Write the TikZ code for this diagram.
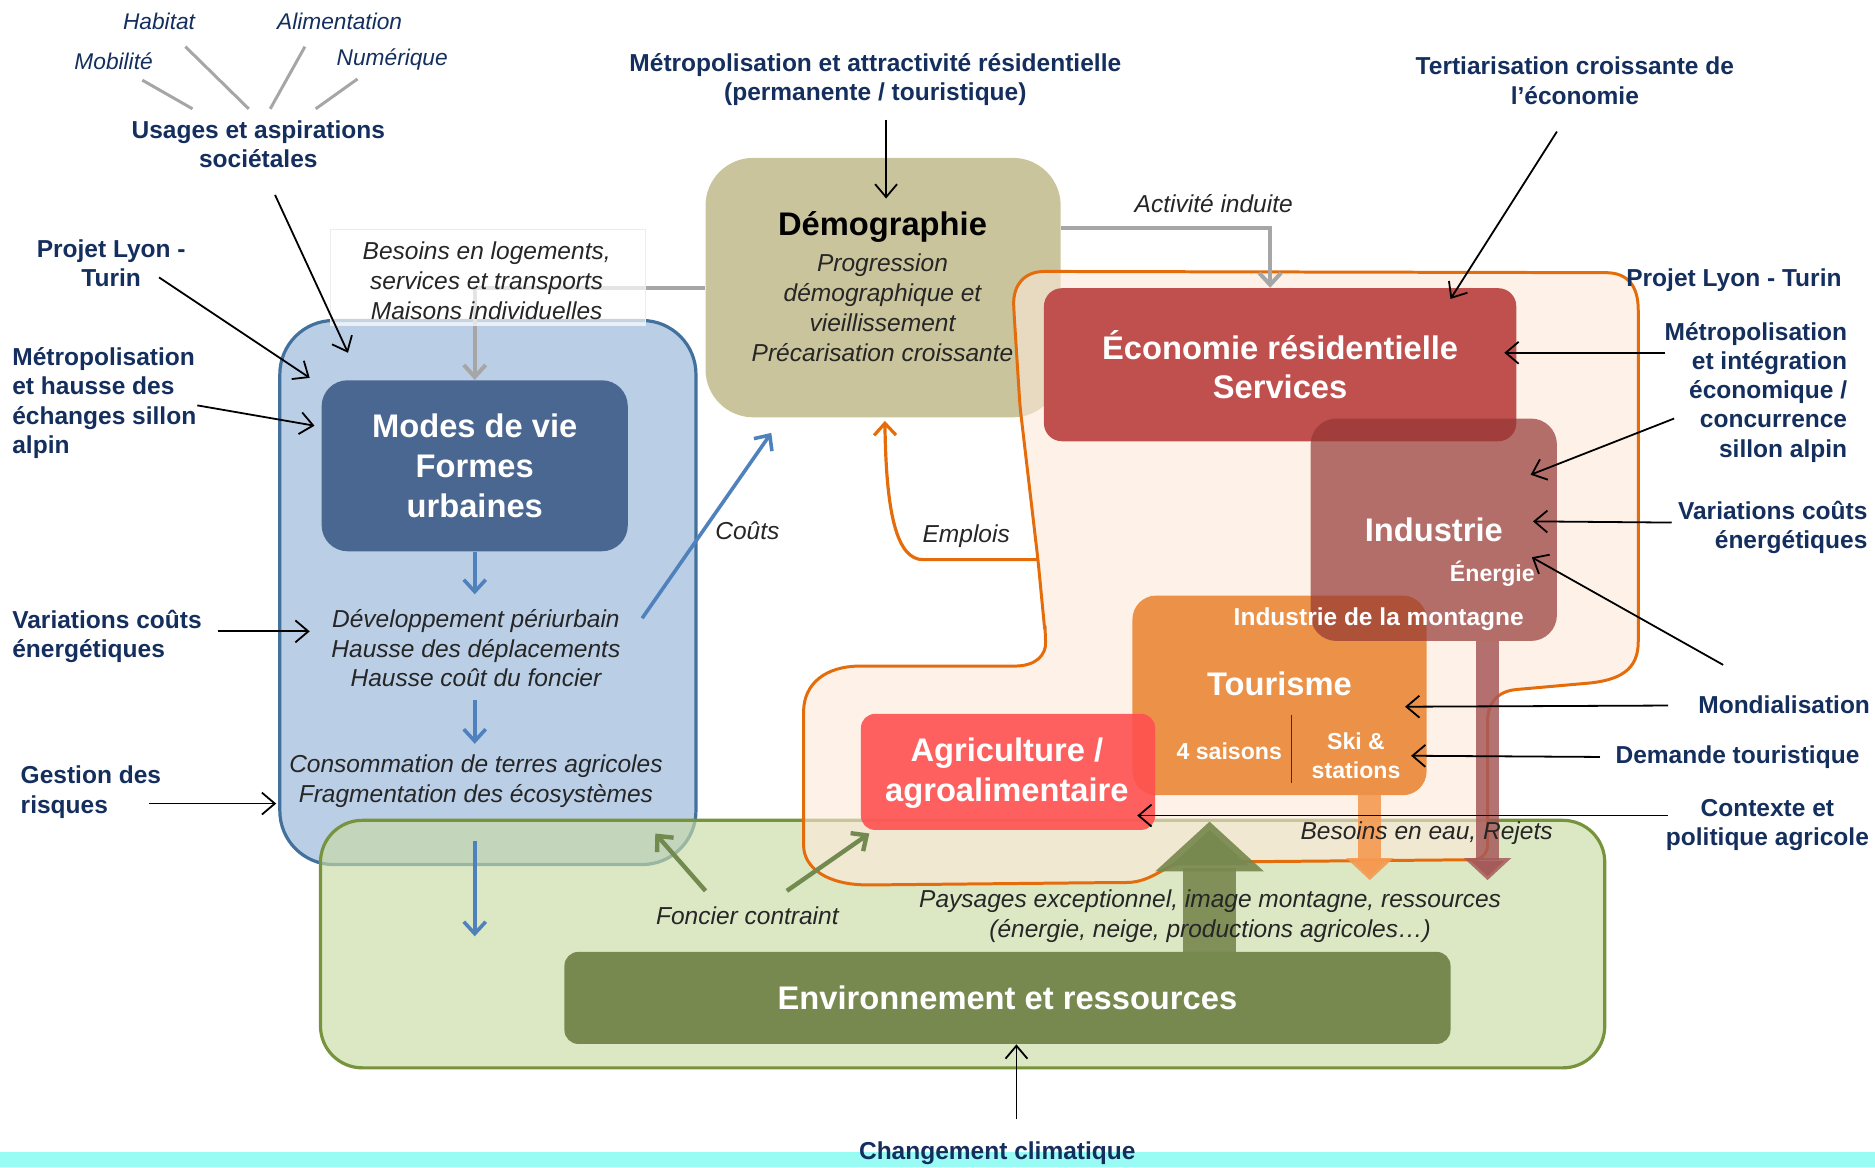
\documentclass[tikz,border=0pt]{standalone}
\usepackage{fontspec}
\setmainfont{Liberation Sans}
\usetikzlibrary{arrows.meta}
\definecolor{navy}{HTML}{142F5E}
\definecolor{txtg}{HTML}{262626}
\definecolor{bluefill}{HTML}{BACEE6}
\definecolor{blueline}{HTML}{41719C}
\definecolor{modesc}{HTML}{4A6791}
\definecolor{democ}{HTML}{C9C49C}
\definecolor{greenfill}{HTML}{C9DBA5}
\definecolor{greenline}{HTML}{77933C}
\definecolor{folive}{HTML}{728A50}
\definecolor{envc}{HTML}{78894F}
\definecolor{ecoc}{HTML}{C0504D}
\definecolor{indc}{HTML}{953735}
\definecolor{tourc}{HTML}{E46C0A}
\definecolor{agric}{HTML}{FF5050}
\definecolor{blobline}{HTML}{E46C0A}
\definecolor{blobfill}{HTML}{FDE9D9}
\definecolor{cyanbar}{HTML}{99FCF4}
\definecolor{arrblue}{HTML}{4F81BD}
\definecolor{grayc}{HTML}{A6A6A6}
\definecolor{tourarr}{HTML}{F59A52}
\definecolor{indarr}{HTML}{A65A5A}
\begin{document}
\begin{tikzpicture}[x=0.6pt,y=-0.6pt,
 lab/.style={font=\fontsize{12.3}{14.7}\selectfont\bfseries,text=navy,inner sep=0pt,align=center},
 labt/.style={font=\fontsize{11.4}{14}\selectfont\itshape,text=navy,inner sep=0pt},
 itl/.style={font=\fontsize{12.3}{15}\selectfont\itshape,text=txtg,inner sep=0pt,align=center},
 bigw/.style={font=\fontsize{16.4}{20}\selectfont\bfseries,text=white,inner sep=0pt,align=center},
 smw/.style={font=\fontsize{11.6}{14.4}\selectfont\bfseries,text=white,inner sep=0pt,align=center},
 boxr/.style={inner sep=0pt,draw=none,rounded corners=#1},
 arr/.style={draw=black,line width=0.9pt,-{Straight Barb[length=6.5pt,width=11pt]}},
 barr/.style={draw=arrblue,line width=1.8pt,-{Straight Barb[length=6pt,width=11pt]}},
 garr/.style={draw=grayc,line width=2pt,-{Straight Barb[length=6pt,width=11pt]}},
 oarr/.style={draw=blobline,line width=1.6pt,-{Straight Barb[length=6pt,width=11pt]}},
 varr/.style={draw=folive,line width=2.2pt,-{Straight Barb[length=6pt,width=11pt]}},
 gline/.style={draw=gray!70,line width=1.5pt},
]
\useasboundingbox (0,0) rectangle (1568,976);
\fill[cyanbar] (0,963) rectangle (1568,976);

% blue container
\node[boxr=27pt, fill=bluefill, draw=blueline, line width=1.6pt, minimum width=208.8pt, minimum height=273pt] (bluec) at (408,495.5) {};
\node[boxr=13pt, fill=modesc, minimum width=153.6pt, minimum height=85.8pt, bigw] (modes) at (397,389.5) {Modes de vie\\Formes\\urbaines};

% demographie
\node[boxr=24pt, fill=democ, minimum width=178.2pt, minimum height=130.2pt] (demo) at (738.5,240.5) {};
\node[font=\fontsize{16.4}{20}\selectfont\bfseries, inner sep=0pt] (demot) at (738,190) {Démographie};
\node[itl] (demoi) at (738,257.5) {Progression\\démographique et\\vieillissement\\Précarisation croissante};

\draw[garr] (demo.west) -| (modes.north);
\node[fill=white, fill opacity=0.7, draw=gray!15, minimum width=158.4pt, minimum height=48pt, inner sep=0pt] (besb) at (408,232) {};
\node[itl] (besoins) at (407,235) {Besoins en logements,\\services et transports\\Maisons individuelles};

% green container
\node[boxr=21pt, fill=greenfill, fill opacity=0.65, draw=greenline, line width=1.6pt, minimum width=644.4pt, minimum height=124.2pt] (greenc) at (805,789.5) {};

% orange blob
\filldraw[fill=blobfill, fill opacity=0.6, draw=blobline, line width=1.5pt, rounded corners=4pt]
 (874,530) -- (868,468) -- (853,340) -- (848,262) .. controls (847,238) and (857,227) .. (880,227)
 -- (1336,228) .. controls (1362,228) and (1370,240) .. (1370,266)
 -- (1370,530) .. controls (1370,560) and (1355,569) .. (1320,572)
 -- (1275,576) .. controls (1252,578) and (1244,588) .. (1244,610)
 -- (1244,700) .. controls (1244,714) and (1238,719) .. (1226,719)
 -- (1000,721) .. controls (975,721) and (965,738) .. (935,738)
 -- (732,740) .. controls (692,740) and (672,726) .. (672,700)
 -- (672,602) .. controls (672,572) and (690,557) .. (726,557)
 -- (842,557) .. controls (866,557) and (875,548) .. (874,530) -- cycle;

% environnement
\node[boxr=7pt, fill=envc, minimum width=444.6pt, minimum height=46.2pt, bigw] (env) at (842.5,834.5) {Environnement et ressources};
\coordinate (envup) at (1011.5,796);
\coordinate (envtip) at (1011.5,687);
\draw[draw=envc, draw opacity=0.92, line width=27pt, -{Triangle[length=25pt,width=53pt]}] (envup) -- (envtip);

% economie boxes
\node[boxr=9pt, fill=ecoc, minimum width=237pt, minimum height=76.8pt, bigw] (eco) at (1070.5,305) {Économie résidentielle\\Services};
\node[boxr=12pt, fill=tourc, fill opacity=0.72, minimum width=147.6pt, minimum height=100.2pt] (tour) at (1070,581.5) {};
\node[boxr=13pt, fill=indc, fill opacity=0.7, minimum width=123.6pt, minimum height=111.6pt] (ind) at (1199,443) {};
\node[bigw] (indt) at (1199,443) {Industrie};
\node[smw] (energ) at (1248,480) {Énergie};
\node[smw, font=\fontsize{12.3}{14.4}\selectfont\bfseries] (indm) at (1153,518) {Industrie de la montagne};
\node[bigw] (tourt) at (1070,572) {Tourisme};
\node[smw] (sais) at (1028,628) {4 saisons};
\draw[black!80, line width=0.9pt] (1080,598) -- (1080,655);
\node[smw] (ski) at (1134,632) {Ski \&\\stations};
\node[boxr=7pt, fill=agric, fill opacity=0.9, minimum width=147.6pt, minimum height=58.2pt] (agri) at (843,645.5) {};
\node[bigw] (agrit) at (842,646.5) {Agriculture /\\agroalimentaire};

% down arrows
\coordinate (tourdown) at (1145.5,665);
\coordinate (tourend) at (1145.5,736);
\coordinate (inddown) at (1244,536);
\coordinate (indend) at (1244,736);
\draw[draw=tourarr, draw opacity=0.9, line width=11.4pt, -{Triangle[length=11pt,width=23pt]}] (tourdown) -- (tourend);
\draw[draw=indarr, draw opacity=0.85, line width=11.4pt, -{Triangle[length=11pt,width=23pt]}] (inddown) -- (indend);

% connectors
\draw[garr] ([yshift=30pt]demo.east) -| ([xshift=-5pt]eco.north);
\node[itl] (act) at (1015,170) {Activité induite};
\coordinate (empl0) at (868,468);
\coordinate (empl1) at (740,352);
\draw[oarr] (empl0) -- (772,468) .. controls (750,468) and (741,430) .. (empl1);
\node[itl] (emplois) at (808,448) {Emplois};

\draw[barr] (modes.south) -- (397,497);
\node[itl] (dev) at (398,542) {Développement périurbain\\Hausse des déplacements\\Hausse coût du foncier};
\draw[barr] (397,585) -- (397,622);
\node[itl] (conso) at (398,653.5) {Consommation de terres agricoles\\Fragmentation des écosystèmes};
\draw[barr] (397,703) -- (397,783);
\coordinate (cout0) at (537,517);
\coordinate (cout1) at (645,362);
\draw[barr] (cout0) -- (cout1);
\node[itl] (couts) at (625,444) {Coûts};

\node[itl] (foncier) at (625,766) {Foncier contraint};
\draw[varr] (590,745) -- (548,697);
\draw[varr] (658,745) -- (727,697);
\node[itl] (pays) at (1012,766.5) {Paysages exceptionnel, image montagne, ressources\\(énergie, neige, productions agricoles…)};
\node[itl] (eau) at (1193,697) {Besoins en eau, Rejets};

% top-left
\node[labt] (hab) at (133,18) {Habitat};
\node[labt] (alim) at (284,18) {Alimentation};
\node[labt] (mob) at (95,51) {Mobilité};
\node[labt] (num) at (328,50) {Numérique};
\draw[gline] (119,67) -- (161,91);
\draw[gline] (155,39) -- (208,91);
\draw[gline] (255,39) -- (226,91);
\draw[gline] (299,66) -- (264,91);
\node[lab] (usages) at (216,120.5) {Usages et aspirations\\sociétales};

% external labels
\node[lab] (lyonL) at (93,220) {Projet Lyon -\\Turin};
\node[lab, align=left, anchor=west] (metroL) at (10,337) {Métropolisation\\et hausse des\\échanges sillon\\alpin};
\node[lab, align=left, anchor=west] (varL) at (10,532.5) {Variations coûts\\énergétiques};
\node[lab, align=left, anchor=west] (gest) at (17,662.5) {Gestion des\\risques};
\node[lab] (metroT) at (732,66.5) {Métropolisation et attractivité résidentielle\\(permanente / touristique)};
\node[lab] (tert) at (1317,67.5) {Tertiarisation croissante de\\l’économie};
\node[lab] (lyonR) at (1450,234) {Projet Lyon - Turin};
\node[lab, align=right, anchor=east] (metroR) at (1545,328) {Métropolisation\\et intégration\\économique /\\concurrence\\sillon alpin};
\node[lab, align=right, anchor=east] (varR) at (1562,441) {Variations coûts\\énergétiques};
\node[lab] (mondi) at (1492,589) {Mondialisation};
\node[lab] (demande) at (1453,633) {Demande touristique};
\node[lab] (contexte) at (1478,690) {Contexte et\\politique agricole};
\node[lab] (chgt) at (834,964) {Changement climatique};

% black arrows
\draw[arr] (230,163) -- (291,295);
\draw[arr] (133,232) -- (259,316);
\draw[arr] (165,339) -- (263,356);
\draw[arr] (182,528) -- (259,528);
\draw[arr] (125,672) -- (231,672);
\draw[arr] (741,100) -- (741,166);
\draw[arr] (1302,110) -- (1213,250);
\draw[arr] (1392,295) -- (1258,295);
\draw[arr] (1400,350) -- (1280,397);
\draw[arr] (1398,437) -- (1282,436);
\draw[arr] (1441,556) -- (1281,466);
\draw[arr] (1395,590) -- (1175,591);
\draw[arr] (1338,633) -- (1180,632);
\draw[arr] (1395,682) -- (951,682);
\draw[arr] (850,936) -- (env.south -| 850,0);
\end{tikzpicture}
\end{document}
